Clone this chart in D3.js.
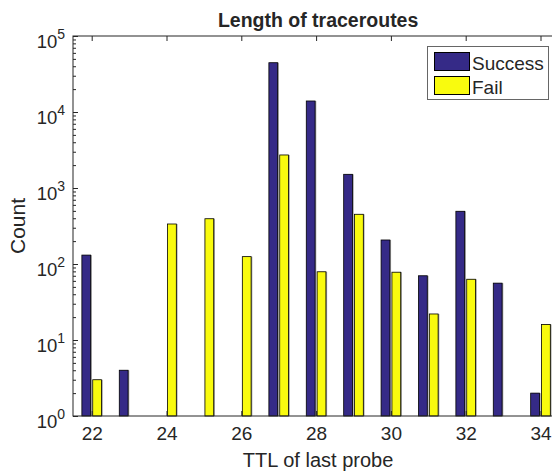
<!DOCTYPE html>
<html><head><meta charset="utf-8">
<script src="https://cdn.jsdelivr.net/npm/d3@7"></script>
<style>body{margin:0;background:#fff}svg{display:block}text{font-family:"Liberation Sans",Arial,Helvetica,sans-serif;fill:#262626}</style>
</head><body>
<svg id="c" width="552" height="473"></svg>
<script>
const ttl = [22,23,24,25,26,27,28,29,30,31,32,33,34];
const success = [131,4,0,0,0,44500,13960,1514,207,70,494,56,2];
const fail = [3,0,336,394,125,2720,79,451,78,22,63,0,16];
const seriesNames = ["Success","Fail"];
const seriesColors = ["#352a87","#f9fb0e"];
const xTicks = [22,24,26,28,30,32,34];
const yTicks = [1,10,100,1000,10000,100000];
const titleText = "Length of traceroutes";
const xLabel = "TTL of last probe";
const yLabel = "Count";

const L=73, T=36, B=416;
const svg=d3.select("#c");
const x=d3.scaleLinear().domain([21.5,34.5]).range([L, L+13*37.4]);
const R=x(34.5);
const y=d3.scaleLog().domain([1,1e5]).range([B,T]);
const axisCol="#262626";

// bars
const unit = x(1)-x(0);
const bw = 0.235*unit, off=0.145*unit;
const series=[success,fail];
series.forEach((vals,si)=>{
  const g=svg.append("g");
  const d=ttl.map((t,i)=>({t,v:vals[i]})).filter(e=>e.v>0);
  const cx=e=>x(e.t)+(si===0?-off:off)-bw/2;
  g.selectAll("rect.sh").data(d).enter().append("rect")
    .attr("x",e=>cx(e)+1.2).attr("y",e=>y(e.v)).attr("width",bw).attr("height",e=>B-y(e.v))
    .attr("fill","#9a9a9a");
  g.selectAll("rect.b").data(d).enter().append("rect")
    .attr("x",cx).attr("y",e=>y(e.v)).attr("width",bw).attr("height",e=>B-y(e.v))
    .attr("fill",seriesColors[si]).attr("stroke","#000").attr("stroke-width",0.8);
});

// axes box
svg.append("rect").attr("x",L).attr("y",T).attr("width",R-L).attr("height",B-T)
  .attr("fill","none").attr("stroke",axisCol).attr("stroke-width",1);

// x ticks
const xb=d3.axisBottom(x).tickValues(xTicks).tickSize(-5).tickPadding(11).tickFormat(d3.format("d"));
const gx=svg.append("g").attr("transform",`translate(0,${B})`).call(xb);
gx.select(".domain").remove();
gx.selectAll("line").attr("stroke",axisCol);
gx.selectAll("text").attr("font-size",19).attr("fill",axisCol);
const xt=d3.axisTop(x).tickValues(xTicks).tickSize(-5).tickFormat("");
const gxt=svg.append("g").attr("transform",`translate(0,${T})`).call(xt);
gxt.select(".domain").remove(); gxt.selectAll("line").attr("stroke",axisCol);

// y ticks major + minor
const minor=[];
for(let e=0;e<5;e++) for(let k=2;k<=9;k++) minor.push(k*Math.pow(10,e));
const yl=d3.axisLeft(y).tickValues(yTicks).tickSize(-5).tickFormat("");
const gy=svg.append("g").attr("transform",`translate(${L},0)`).call(yl);
gy.select(".domain").remove(); gy.selectAll("line").attr("stroke",axisCol);
const ym=d3.axisLeft(y).tickValues(minor).tickSize(-3).tickFormat("");
const gym=svg.append("g").attr("transform",`translate(${L},0)`).call(ym);
gym.select(".domain").remove(); gym.selectAll("line").attr("stroke",axisCol);
const yr=d3.axisRight(y).tickValues(yTicks).tickSize(-5).tickFormat("");
const gyr=svg.append("g").attr("transform",`translate(${R},0)`).call(yr);
gyr.select(".domain").remove(); gyr.selectAll("line").attr("stroke",axisCol);

// y tick labels with superscripts
const yLab=svg.append("g");
yTicks.forEach(v=>{
  const e=Math.round(Math.log10(v));
  const t=yLab.append("text").attr("x",65).attr("y",y(v)+11.5).attr("text-anchor","end").attr("font-size",18.5);
  t.append("tspan").text("10");
  t.append("tspan").attr("dy",-8.5).attr("font-size",14).text(String(e));
});

// title and labels
svg.append("text").attr("x",(L+R)/2+2).attr("y",27).attr("text-anchor","middle")
  .attr("font-size",19.5).attr("font-weight","bold").attr("fill","#000").text(titleText);
svg.append("text").attr("x",(L+R)/2+2).attr("y",467).attr("text-anchor","middle")
  .attr("font-size",20).text(xLabel);
svg.append("text").attr("transform",`translate(25,${(T+B)/2}) rotate(-90)`).attr("text-anchor","middle")
  .attr("font-size",21).text(yLabel);

// legend
const lg=svg.append("g");
lg.append("rect").attr("x",427.5).attr("y",46.5).attr("width",121).attr("height",53)
  .attr("fill","#fff").attr("stroke","#666").attr("stroke-width",1);
seriesNames.forEach((n,i)=>{
  lg.append("rect").attr("x",434.5).attr("y",52.5+i*24).attr("width",35).attr("height",18)
    .attr("fill",seriesColors[i]).attr("stroke","#000").attr("stroke-width",1);
  lg.append("text").attr("x",472).attr("y",69.5+i*24).attr("font-size",19).attr("fill","#000").text(n);
});
</script>
</body></html>
